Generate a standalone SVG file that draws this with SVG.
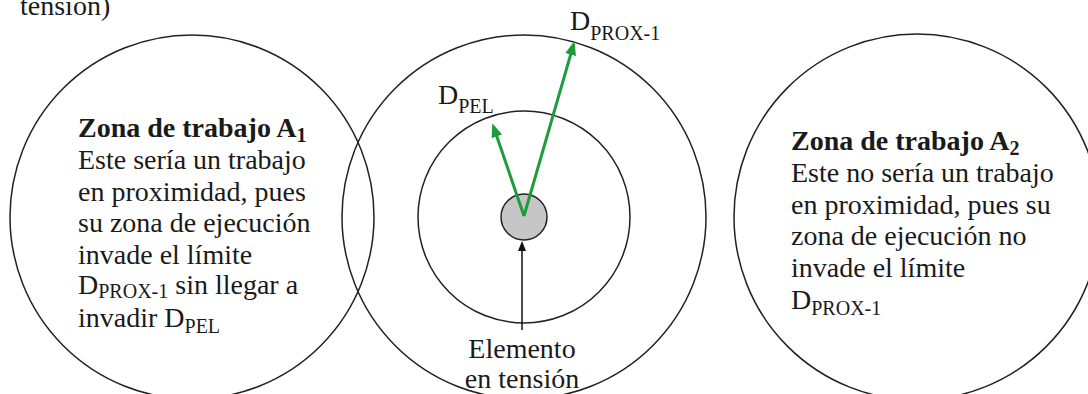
<svg xmlns="http://www.w3.org/2000/svg" width="1088" height="394" viewBox="0 0 1088 394">
<style>
.ring{fill:none;stroke:#222;stroke-width:1.5}
.t{font-family:"Liberation Serif","Times New Roman",serif;font-size:28px;fill:#1a1a1a}
.b{font-weight:bold}
.sub{font-size:20px}
.g{stroke:#1e9b3a;stroke-width:3;fill:none}
</style>
<defs>
<marker id="ag" markerUnits="userSpaceOnUse" markerWidth="15" markerHeight="12" refX="6" refY="5.5" orient="auto" viewBox="0 0 15 12"><path d="M0,0 L14,5.5 L0,11 z" fill="#1e9b3a"/></marker>
<marker id="ak" markerUnits="userSpaceOnUse" markerWidth="12" markerHeight="10" refX="4" refY="4" orient="auto" viewBox="0 0 12 10"><path d="M0,0 L10,4 L0,8 z" fill="#111"/></marker>
</defs>
<text class="t" x="20" y="15">tensión)</text>
<g id="zonaA1">
<circle class="ring" cx="192" cy="217" r="182"/>
<text class="t" x="78" y="137"><tspan class="b">Zona de trabajo A</tspan><tspan class="b sub" dy="5">1</tspan></text>
<text class="t" x="78" y="169">Este sería un trabajo</text>
<text class="t" x="78" y="200.5">en proximidad, pues</text>
<text class="t" x="78" y="232">su zona de ejecución</text>
<text class="t" x="78" y="264">invade el límite</text>
<text class="t" x="78" y="294">D<tspan class="sub" dy="4">PROX-1</tspan><tspan dy="-4"> sin llegar a</tspan></text>
<text class="t" x="78" y="327">invadir D<tspan class="sub" dy="6">PEL</tspan></text>
</g>
<g id="limites">
<circle class="ring" cx="524" cy="217" r="182"/>
<circle class="ring" cx="524" cy="217" r="106"/>
<text class="t" x="570" y="30">D<tspan class="sub" dy="10">PROX-1</tspan></text>
<text class="t" x="438" y="104">D<tspan class="sub" dy="9">PEL</tspan></text>
</g>
<g id="elemento">
<circle cx="524" cy="217" r="23" fill="#c6c6c6" stroke="#222" stroke-width="1.5"/>
<text class="t" x="522" y="358" text-anchor="middle">Elemento</text>
<text class="t" x="522" y="388" text-anchor="middle">en tensión</text>
</g>
<g id="zonaA2">
<circle class="ring" cx="917" cy="217" r="183"/>
<text class="t" x="791" y="150"><tspan class="b">Zona de trabajo A</tspan><tspan class="b sub" dy="5">2</tspan></text>
<text class="t" x="791" y="182">Este no sería un trabajo</text>
<text class="t" x="791" y="213.5">en proximidad, pues su</text>
<text class="t" x="791" y="245">zona de ejecución no</text>
<text class="t" x="791" y="277">invade el límite</text>
<text class="t" x="791" y="308.5">D<tspan class="sub" dy="6">PROX-1</tspan></text>
</g>
<g id="connectors">
<line class="g" x1="524" y1="216" x2="494.9" y2="130.7" marker-end="url(#ag)"/>
<line class="g" x1="524" y1="216" x2="572.3" y2="48.8" marker-end="url(#ag)"/>
<line x1="522" y1="330" x2="522" y2="247" stroke="#111" stroke-width="1.5" marker-end="url(#ak)"/>
</g>
</svg>
